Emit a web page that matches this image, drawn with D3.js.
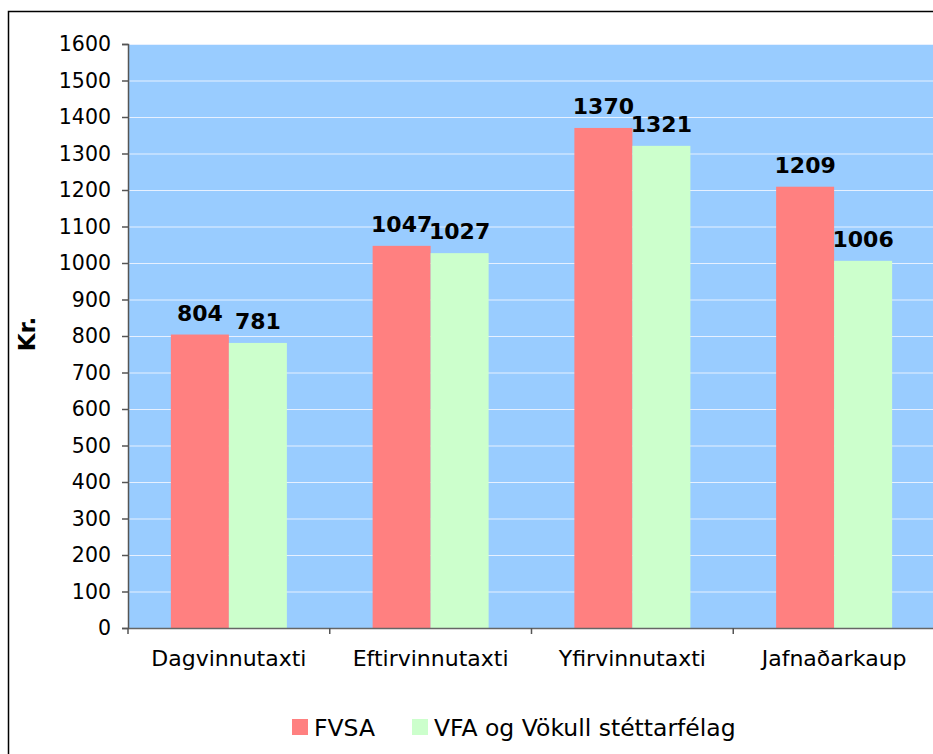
<!DOCTYPE html>
<html>
<head>
<meta charset="utf-8">
<script src="https://cdn.jsdelivr.net/npm/d3@7"></script>
<style>
  html, body { margin: 0; padding: 0; background: #ffffff; }
  svg { display: block; font-family: "DejaVu Sans", Verdana, sans-serif; }
</style>
</head>
<body>
<svg id="chart" width="933" height="754"></svg>
<script>
// Hourly wage comparison, two unions, four wage categories
const categories = ["Dagvinnutaxti", "Eftirvinnutaxti", "Yfirvinnutaxti", "Jafnaðarkaup"];
const seriesNames = ["FVSA", "VFA og Vökull stéttarfélag"];
const fvsa = [804, 1047, 1370, 1209];
const vfa = [781, 1027, 1321, 1006];
const yTicks = [0, 100, 200, 300, 400, 500, 600, 700, 800, 900, 1000, 1100, 1200, 1300, 1400, 1500, 1600];
const colors = ["#FF8080", "#CCFFCC"];

const svg = d3.select("#chart");
const FONT = "DejaVu Sans, Verdana, sans-serif";

// outer chart frame
svg.append("rect")
  .attr("x", 8.5).attr("y", 11.5)
  .attr("width", 940).attr("height", 760)
  .attr("fill", "#ffffff").attr("stroke", "#000000").attr("stroke-width", 1.5);

const plot = { left: 128, right: 935, top: 44, bottom: 628 };

const x = d3.scaleBand().domain(categories).range([plot.left, plot.right]).paddingInner(0).paddingOuter(0);
const y = d3.scaleLinear().domain([0, 1600]).range([plot.bottom, plot.top]);

const groupFrac = 0.575;
const xs = d3.scaleBand().domain(seriesNames)
  .range([0, x.bandwidth() * groupFrac]);
const groupOffset = x.bandwidth() * (1 - groupFrac) / 2;

// plot background
svg.append("rect")
  .attr("x", plot.left).attr("y", plot.top)
  .attr("width", plot.right - plot.left).attr("height", plot.bottom - plot.top)
  .attr("fill", "#99CCFF");

// horizontal gridlines
svg.append("g").selectAll("line")
  .data(yTicks.filter(d => d > 0))
  .join("line")
  .attr("x1", plot.left).attr("x2", plot.right)
  .attr("y1", d => y(d) + 0.5).attr("y2", d => y(d) + 0.5)
  .attr("stroke", "#E6F0FF").attr("stroke-width", 1.2);

// bars
const rows = categories.map((c, i) => ({ cat: c, values: [fvsa[i], vfa[i]] }));
const groups = svg.append("g").selectAll("g")
  .data(rows).join("g")
  .attr("transform", d => `translate(${x(d.cat) + groupOffset},0)`);

groups.selectAll("rect")
  .data(d => d.values.map((v, j) => ({ name: seriesNames[j], v, j })))
  .join("rect")
  .attr("x", d => xs(d.name))
  .attr("y", d => y(d.v))
  .attr("width", xs.bandwidth())
  .attr("height", d => y(0) - y(d.v))
  .attr("fill", d => colors[d.j]);

// value labels
groups.selectAll("text")
  .data(d => d.values.map((v, j) => ({ name: seriesNames[j], v, j })))
  .join("text")
  .attr("x", d => xs(d.name) + xs.bandwidth() / 2)
  .attr("y", d => y(d.v) - 14)
  .attr("text-anchor", "middle")
  .attr("font-weight", "bold")
  .attr("font-size", 22)
  .attr("fill", "#000")
  .text(d => d.v);

// y axis
const yAxis = d3.axisLeft(y).tickValues(yTicks).tickFormat(d3.format("d")).tickSize(6).tickPadding(11);
const gy = svg.append("g").attr("transform", `translate(${plot.left},0)`).call(yAxis);
gy.select(".domain").attr("stroke", "#555").attr("stroke-width", 1.5);
gy.selectAll(".tick line").attr("stroke", "#555").attr("stroke-width", 1.5);
gy.selectAll(".tick text").attr("font-size", 20.5).attr("fill", "#000").attr("font-family", FONT);

// x axis
const xAxis = d3.axisBottom(x).tickSize(0).tickPadding(22);
const gx = svg.append("g").attr("transform", `translate(0,${plot.bottom})`).call(xAxis);
gx.select(".domain").attr("stroke", "#666").attr("stroke-width", 1.5);
gx.selectAll(".tick text").attr("font-size", 22).attr("fill", "#000").attr("font-family", FONT);
// category separator ticks
svg.append("g").selectAll("line")
  .data(categories.concat(["__end"]))
  .join("line")
  .attr("x1", d => d === "__end" ? plot.right : x(d))
  .attr("x2", d => d === "__end" ? plot.right : x(d))
  .attr("y1", plot.bottom).attr("y2", plot.bottom + 6)
  .attr("stroke", "#555").attr("stroke-width", 1.5);

// y axis title
svg.append("text")
  .attr("transform", `translate(35,334) rotate(-90)`)
  .attr("text-anchor", "middle")
  .attr("font-weight", "bold")
  .attr("font-size", 23)
  .text("Kr.");

// legend
const legend = svg.append("g");
const legendItems = [
  { name: seriesNames[0], color: colors[0], x: 292 },
  { name: seriesNames[1], color: colors[1], x: 412 }
];
legendItems.forEach(it => {
  legend.append("rect").attr("x", it.x).attr("y", 719).attr("width", 16).attr("height", 16).attr("fill", it.color);
  legend.append("text").attr("x", it.x + 22).attr("y", 736)
    .attr("font-size", 23.5).attr("fill", "#000").text(it.name);
});
</script>
</body>
</html>
